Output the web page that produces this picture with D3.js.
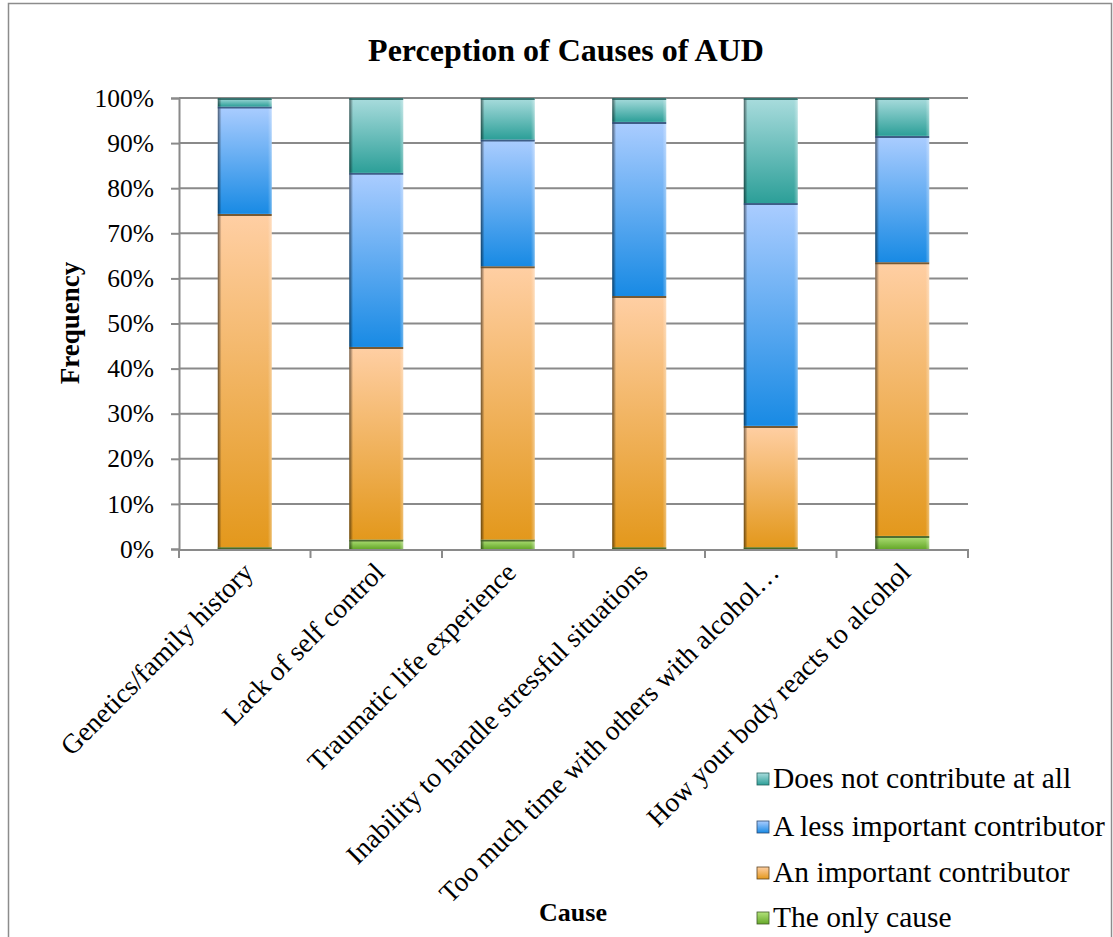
<!DOCTYPE html>
<html>
<head>
<meta charset="utf-8">
<script src="https://cdn.jsdelivr.net/npm/d3@7"></script>
<style>
  body { margin: 0; background: #fff; }
  text { font-family: "Liberation Serif", "Times New Roman", serif; }
</style>
</head>
<body>
<div id="chart"></div>
<script>
"use strict";

const causes = [
    "Genetics/family history",
    "Lack of self control",
    "Traumatic life experience",
    "Inability to handle stressful situations",
    "Too much time with others with alcohol…",
    "How your body reacts to alcohol",
];

// percentages, bottom to top of each bar
const onlyCause = [0.4, 2.1, 2.1, 0.4, 0.4, 2.9];
const important = [73.9, 42.7, 60.6, 55.7, 26.9, 60.7];
const lessImportant = [23.8, 38.6, 28.1, 38.6, 49.4, 28.0];
const notAtAll = [1.9, 16.6, 9.2, 5.3, 23.3, 8.4];

const seriesNames = [
    "The only cause",
    "An important contributor",
    "A less important contributor",
    "Does not contribute at all",
];
const yTicks = [0, 10, 20, 30, 40, 50, 60, 70, 80, 90, 100];

// light top, saturated bottom, dark edge
const palette = [
    ["#b2e27a", "#66a82a", "#3f5a26"],
    ["#ffcfa4", "#e3981c", "#5e4420"],
    ["#abcdff", "#188ae4", "#2c4a72"],
    ["#a9dcdd", "#2c9f98", "#24615d"],
];

const W = 1113, H = 937;
const X0 = 179, X1 = 968, Y0 = 549, Y1 = 98;

const svg = d3.select("#chart").append("svg")
    .attr("width", W)
    .attr("height", H);

// outer frame
svg.append("rect")
    .attr("x", 8.5).attr("y", 3.5)
    .attr("width", W - 10).attr("height", H + 10)
    .attr("fill", "none")
    .attr("stroke", "#8c8c8c")
    .attr("stroke-width", 1.5);

const defs = svg.append("defs");
palette.forEach((p, i) => {
    const g = defs.append("linearGradient")
        .attr("id", `grad${i}`)
        .attr("x1", 0).attr("y1", 0).attr("x2", 0).attr("y2", 1);
    g.append("stop").attr("offset", "0%").attr("stop-color", p[0]);
    g.append("stop").attr("offset", "100%").attr("stop-color", p[1]);
});
const edge = defs.append("linearGradient")
    .attr("id", "edge")
    .attr("x1", 0).attr("y1", 0).attr("x2", 1).attr("y2", 0);
edge.append("stop").attr("offset", "0%").attr("stop-color", "#000").attr("stop-opacity", 0.55);
edge.append("stop").attr("offset", "7%").attr("stop-color", "#000").attr("stop-opacity", 0);
edge.append("stop").attr("offset", "93%").attr("stop-color", "#fff").attr("stop-opacity", 0);
edge.append("stop").attr("offset", "100%").attr("stop-color", "#fff").attr("stop-opacity", 0.35);

const xscale = d3.scaleBand()
    .domain(causes)
    .range([X0, X1])
    .paddingInner(0.59)
    .paddingOuter(0.295);

const yscale = d3.scaleLinear()
    .domain([0, 100])
    .range([Y0, Y1]);

// gridlines
svg.append("g")
    .selectAll("line")
    .data(yTicks.slice(1))
    .join("line")
    .attr("x1", X0).attr("x2", X1)
    .attr("y1", d => yscale(d)).attr("y2", d => yscale(d))
    .attr("stroke", "#8a8a8a")
    .attr("stroke-width", 2);

// stacked bars
const table = causes.map((c, i) => ({
    cause: c,
    s0: onlyCause[i],
    s1: important[i],
    s2: lessImportant[i],
    s3: notAtAll[i],
}));
const stack = d3.stack().keys(["s0", "s1", "s2", "s3"])(table);

const layers = svg.append("g")
    .selectAll("g")
    .data(stack)
    .join("g");

layers.selectAll("rect.fill")
    .data((d, i) => d.map(v => ({ v, i })))
    .join("rect")
    .attr("class", "fill")
    .attr("x", d => xscale(d.v.data.cause))
    .attr("width", xscale.bandwidth())
    .attr("y", d => yscale(d.v[1]))
    .attr("height", d => yscale(d.v[0]) - yscale(d.v[1]))
    .attr("fill", d => `url(#grad${d.i})`);

layers.selectAll("rect.edge")
    .data((d, i) => d.map(v => ({ v, i })))
    .join("rect")
    .attr("class", "edge")
    .attr("x", d => xscale(d.v.data.cause))
    .attr("width", xscale.bandwidth())
    .attr("y", d => yscale(d.v[1]))
    .attr("height", d => yscale(d.v[0]) - yscale(d.v[1]))
    .attr("fill", "url(#edge)");

layers.selectAll("line.top")
    .data((d, i) => d.map(v => ({ v, i })))
    .join("line")
    .attr("class", "top")
    .attr("x1", d => xscale(d.v.data.cause))
    .attr("x2", d => xscale(d.v.data.cause) + xscale.bandwidth())
    .attr("y1", d => yscale(d.v[1]) + 1)
    .attr("y2", d => yscale(d.v[1]) + 1)
    .attr("stroke", d => palette[d.i][2])
    .attr("stroke-opacity", 0.85)
    .attr("stroke-width", 2);

// y axis
const yaxis = svg.append("g")
    .attr("transform", `translate(${X0},0)`)
    .call(d3.axisLeft(yscale)
        .tickValues(yTicks)
        .tickSize(8)
        .tickPadding(17)
        .tickFormat(d => d + "%"));
yaxis.selectAll("path, line").attr("stroke", "#8a8a8a").attr("stroke-width", 2);
yaxis.selectAll("text")
    .attr("font-family", "Liberation Serif")
    .attr("font-size", 25.5)
    .attr("fill", "#000");

// x axis
const xaxis = svg.append("g")
    .attr("transform", `translate(0,${Y0 + 1})`)
    .call(d3.axisBottom(xscale).tickSize(0).tickFormat(""));
xaxis.select("path").attr("d", `M${X0},0H${X1}`)
    .attr("stroke", "#8a8a8a").attr("stroke-width", 2);

const bounds = d3.range(causes.length + 1).map(i => X0 + i * xscale.step());
svg.append("g")
    .selectAll("line")
    .data(bounds)
    .join("line")
    .attr("x1", d => d).attr("x2", d => d)
    .attr("y1", Y0).attr("y2", Y0 + 9)
    .attr("stroke", "#8a8a8a")
    .attr("stroke-width", 2);

svg.append("g")
    .selectAll("text")
    .data(causes)
    .join("text")
    .attr("transform", d => `translate(${xscale(d) + xscale.bandwidth() / 2 + 10},${Y0 + 25}) rotate(-45)`)
    .attr("text-anchor", "end")
    .attr("font-size", 27.5)
    .text(d => d);

// titles
svg.append("text")
    .attr("x", 566).attr("y", 61)
    .attr("text-anchor", "middle")
    .attr("font-size", 32)
    .attr("font-weight", "bold")
    .text("Perception of Causes of AUD");

svg.append("text")
    .attr("transform", `translate(79,323) rotate(-90)`)
    .attr("text-anchor", "middle")
    .attr("font-size", 27)
    .attr("font-weight", "bold")
    .text("Frequency");

svg.append("text")
    .attr("x", 573).attr("y", 921)
    .attr("text-anchor", "middle")
    .attr("font-size", 26)
    .attr("font-weight", "bold")
    .text("Cause");

// legend, top entry is the last series
const legendY = [779, 827, 873, 918];
const legend = svg.append("g")
    .selectAll("g")
    .data(seriesNames.slice().reverse())
    .join("g")
    .attr("transform", (d, i) => `translate(757,${legendY[i]})`);

legend.append("rect")
    .attr("x", 0).attr("y", -6)
    .attr("width", 12).attr("height", 12)
    .attr("fill", (d, i) => `url(#grad${3 - i})`)
    .attr("stroke", (d, i) => palette[3 - i][2])
    .attr("stroke-width", 0.8);

legend.append("text")
    .attr("x", 16).attr("y", 9)
    .attr("font-size", 29.5)
    .text(d => d);
</script>
</body>
</html>
